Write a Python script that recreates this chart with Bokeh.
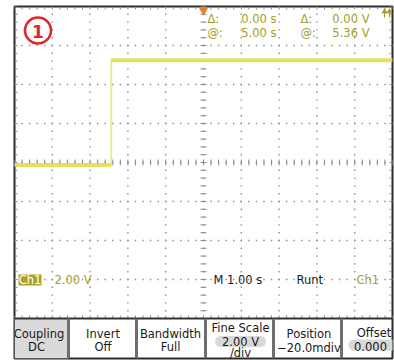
import numpy as np
from bokeh.plotting import figure
from bokeh.models import Range1d
from bokeh.core.properties import value
from bokeh.embed import file_html
from bokeh.resources import INLINE

# ---------------- data ----------------
trace_time = [0.0, 2.56, 2.56, 10.0]        # s
trace_volts = [-0.13, -0.13, 5.25, 5.25]    # V
sec_per_div = 1.0
volts_per_div = 2.0
n_hdiv = 10
n_vdiv = 8
trigger_time = 5.0
cursor_names = ["Δ:", "@:"]
cursor_time = ["0.00 s", "5.00 s"]
cursor_volt = ["0.00 V", "5.36 V"]
channel_name = "Ch1"
channel_scale = "2.00 V"
timebase_label = "M 1.00 s"
trigger_type = "Runt"
trigger_source = "Ch1"
button_titles = ["Coupling", "Invert", "Bandwidth", "Fine Scale", "Position", "Offset"]
button_values = ["DC", "Off", "Full", "2.00 V", "\u221220.0mdiv", "0.000"]
fine_scale_unit = "/div"

# ---------------- layout (pixels) ----------------
W, H = 394, 360
L, T, R, B = 14, 6, 392, 358       # screen frame
GRID_B = 318                        # bottom of graticule
vmax = n_vdiv / 2 * volts_per_div
px_per_v = (GRID_B - T) / (n_vdiv * volts_per_div)
ybottom = -vmax - (B - GRID_B) / px_per_v
tmax = n_hdiv * sec_per_div
px_per_s = (R - L) / tmax

OLIVE = "#a39e28"
INK = "#1a1a1a"
FONT = value("DejaVu Sans")
FS = "11.5px"

p = figure(width=W, height=H, x_range=Range1d(0, tmax), y_range=Range1d(ybottom, vmax),
           output_backend="svg", toolbar_location=None,
           min_border_left=L, min_border_top=T, min_border_right=W - R, min_border_bottom=H - B,
           x_axis_location=None, y_axis_location=None)
p.grid.visible = False
p.background_fill_color = "white"
p.border_fill_color = "white"
p.outline_line_color = "#2b2b2b"
p.outline_line_width = 2
p.extra_x_ranges = {"ui": Range1d(L, R)}
p.extra_y_ranges = {"ui": Range1d(B, T)}
UI = dict(x_range_name="ui", y_range_name="ui")

# ---------------- graticule ----------------
t_div = np.arange(1, n_hdiv) * sec_per_div
v_div = (np.arange(1, n_vdiv) - n_vdiv / 2) * volts_per_div
t_minor = np.arange(0, n_hdiv * 5 + 1) / 5 * sec_per_div
v_minor = (np.arange(0, n_vdiv * 5 + 1) / 5 - n_vdiv / 2) * volts_per_div

dx, dy = [], []
for t in t_div:
    dx += [t] * len(v_minor)
    dy += list(v_minor)
for v in v_div:
    dx += list(t_minor)
    dy += [v] * len(t_minor)
p.scatter(dx, dy, marker="square", size=1.4, color="#8c8c8c", line_width=0)

tk = 3.0 / px_per_v
tkx = 3.0 / px_per_s
tc = tmax / 2
GC = "#8c8c8c"
p.segment(x0=t_minor, y0=-tk, x1=t_minor, y1=tk, line_color=GC, line_width=1)
p.segment(x0=tc - tkx, y0=v_minor, x1=tc + tkx, y1=v_minor, line_color=GC, line_width=1)
p.segment(x0=t_minor, y0=vmax, x1=t_minor, y1=vmax - tk, line_color=GC, line_width=1)
p.segment(x0=t_minor, y0=-vmax, x1=t_minor, y1=-vmax + tk, line_color=GC, line_width=1)
p.segment(x0=0, y0=v_minor, x1=tkx, y1=v_minor, line_color=GC, line_width=1)
p.segment(x0=tmax, y0=v_minor, x1=tmax - tkx, y1=v_minor, line_color=GC, line_width=1)

# ---------------- trace ----------------
p.line(trace_time, trace_volts, line_width=1.8, color="#eceb8c")
p.multi_line(xs=[trace_time[0:2], trace_time[2:4]], ys=[trace_volts[0:2], trace_volts[2:4]],
             line_width=4, color="#e3df5c", line_alpha=0.95)

# trigger marker
p.scatter(x=[trigger_time], y=[10], y_range_name="ui", marker="inverted_triangle",
          size=9, color="#f07a1e", line_width=0)
# off-screen markers top right
p.scatter(x=[384, 389], y=[11, 11], marker="triangle", size=6, color=OLIVE, line_width=0, **UI)
p.segment(x0=[384, 389], y0=[12, 12], x1=[384, 389], y1=[17, 17], line_color=OLIVE,
          line_width=1.2, **UI)

# channel badge
p.scatter(x=[37.5], y=[30], marker="circle", size=26, fill_color=None,
          line_color="#e4252b", line_width=2.6, **UI)
p.text(x=[37.5], y=[30.5], text=["1"], text_font=FONT, text_font_size="17px",
       text_font_style="bold", text_color="#e4252b", text_align="center",
       text_baseline="middle", **UI)

# cursor readouts
ry = [18, 32]
p.text(x=[207, 207], y=ry, text=cursor_names, text_font=FONT, text_font_size=FS,
       text_color=OLIVE, text_baseline="middle", **UI)
p.text(x=[276, 276], y=ry, text=cursor_time, text_font=FONT, text_font_size=FS,
       text_color=OLIVE, text_baseline="middle", text_align="right", **UI)
p.text(x=[300, 300], y=ry, text=cursor_names, text_font=FONT, text_font_size=FS,
       text_color=OLIVE, text_baseline="middle", **UI)
p.text(x=[369, 369], y=ry, text=cursor_volt, text_font=FONT, text_font_size=FS,
       text_color=OLIVE, text_baseline="middle", text_align="right", **UI)

# bottom readouts
by = 279.5
p.rect(x=[29.5], y=[by], width=23, height=11, fill_color="#a8a232", line_width=0, **UI)
p.text(x=[29.5], y=[by], text=[channel_name], text_font=FONT, text_font_size=FS,
       text_color="white", text_align="center", text_baseline="middle", **UI)
p.text(x=[54], y=[by], text=[channel_scale], text_font=FONT, text_font_size=FS,
       text_color=OLIVE, text_baseline="middle", **UI)
p.text(x=[213, 296], y=[by, by], text=[timebase_label, trigger_type], text_font=FONT,
       text_font_size=FS, text_color=INK, text_baseline="middle", **UI)
p.text(x=[356], y=[by], text=[trigger_source], text_font=FONT, text_font_size=FS,
       text_color=OLIVE, text_baseline="middle", **UI)

# ---------------- button bar ----------------
p.quad(left=[L], right=[68], top=[GRID_B], bottom=[B], fill_color="#dadada", line_width=0, **UI)
p.segment(x0=[L], y0=[GRID_B], x1=[R], y1=[GRID_B], line_color="#333333", line_width=2, **UI)
sep = [68, 136, 205, 273, 341]
p.segment(x0=sep, y0=[GRID_B] * 5, x1=sep, y1=[B] * 5, line_color="#6e6e6e", line_width=3, **UI)

# pills
p.segment(x0=[220, 353.5], y0=[341, 344.5], x1=[260, 400], y1=[341, 344.5],
          line_color="#d8d8d8", line_width=11, line_cap="round", **UI)

title_x = [38.5, 102.5, 170, 240, 308.5, 373.5]
title_y = [333.5, 333.5, 333.5, 327.5, 333.5, 332]
value_x = [36, 102.5, 170, 240, 308.5, 370]
value_y = [346, 346, 346, 341, 347, 345.5]
p.text(x=title_x, y=title_y, text=button_titles, text_font=FONT, text_font_size=FS,
       text_color=INK, text_align="center", text_baseline="middle", **UI)
p.text(x=value_x, y=value_y, text=button_values, text_font=FONT, text_font_size=FS,
       text_color=INK, text_align="center", text_baseline="middle", **UI)
p.text(x=[240], y=[352.5], text=[fine_scale_unit], text_font=FONT, text_font_size=FS,
       text_color=INK, text_align="center", text_baseline="middle", **UI)

open("out.html", "w").write(file_html(p, INLINE))
